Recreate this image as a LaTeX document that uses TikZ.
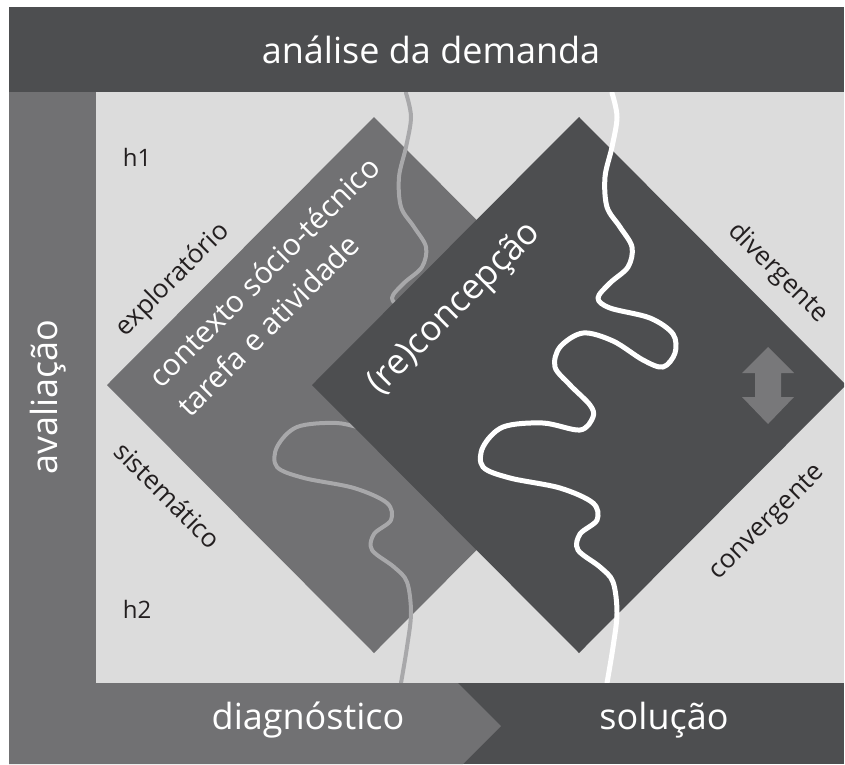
\documentclass[tikz,border=0pt]{standalone}
\usepackage{fontspec}
\setmainfont{Open Sans}
\usepackage{xcolor}
\usepackage{tikz}
\usetikzlibrary{positioning}
\definecolor{DarkGray}{HTML}{4D4E50}
\definecolor{MidGray}{HTML}{717173}
\definecolor{PaleGray}{HTML}{DCDCDC}
\definecolor{RiverGray}{HTML}{A8A8AA}
\definecolor{ArrowGray}{HTML}{78787A}
\definecolor{InkGray}{HTML}{231F20}
\newcommand{\river}{plot[smooth,tension=0.55] coordinates {(612,93) (617,117) (612,147) (605,177) (607,207) (620,227) (632,247) (628,267) (610,283) (598,298) (610,308) (650,318) (673,334) (675,353) (663,367) (643,360) (613,341) (583,333) (560,347) (555,367) (570,385) (590,405) (593,417) (580,430) (543,423) (503,427) (483,447) (483,467) (510,478) (560,488) (593,503) (597,520) (580,534) (578,550) (600,567) (613,582) (617,613) (613,647) (607,683)}}

\begin{document}
\begin{tikzpicture}[
  x=1pt,y=-1pt,
  band/.style={white,inner sep=0pt,font=\fontsize{36}{42}\selectfont},
  side/.style={InkGray,inner sep=0pt,font=\fontsize{26}{30}\selectfont},
  phase/.style={white,inner sep=0pt,align=left,font=\fontsize{30}{41}\selectfont},
  riverline/.style={line width=#1,line cap=round,line join=round}
]
\useasboundingbox (0,0) rectangle (845,764);
\fill[PaleGray] (96,92) rectangle (844,683);
% losangos
\fill[MidGray] (374,117) -- (641,385) -- (374,653) -- (107,385) -- cycle;
\draw[riverline=4pt,RiverGray,xshift=-206pt] \river;
\begin{scope}
\clip (96,92) rectangle (844,683);
\fill[DarkGray] (579,117) -- (846,385) -- (579,653) -- (312,385) -- cycle;
\end{scope}
\draw[riverline=5pt,white] \river;
\fill[ArrowGray] (768,347) -- (794,373) -- (781,373) -- (781,397) -- (794,397) -- (768,424)
  -- (742,397) -- (755,397) -- (755,373) -- (742,373) -- cycle;
% faixas
\fill[DarkGray] (9,7) rectangle (844,92);
\fill[MidGray] (9,92) rectangle (96,683);
\fill[DarkGray] (9,683) rectangle (844,764);
\fill[MidGray] (9,683) -- (458,683) -- (501,726) -- (463,764) -- (9,764) -- cycle;
\node[band] (demanda) at (431,50) {análise da demanda};
\node[band,rotate=90] (avaliacao) at (48,397) {avaliação};
\node[band] (diagnostico) at (308,720) {diagnóstico};
\node[band] (solucao) at (664,720) {solução};
\node[side,font=\fontsize{24}{28}\selectfont] (h1) at (137,157) {h1};
\node[side,font=\fontsize{24}{28}\selectfont] (h2) at (137,609) {h2};
\node[side,rotate=45] (exploratorio) at (173,280) {exploratório};
\node[side,rotate=-45] (sistematico) at (168,495) {sistemático};
\node[side,rotate=-45] (divergente) at (778,273) {divergente};
\node[side,rotate=45] (convergente) at (768,523) {convergente};
\node[phase,rotate=45] (contexto) at (278,286) {contexto sócio-técnico\\tarefa e atividade};
\node[phase,rotate=45,font=\fontsize{35}{41}\selectfont] (concepcao) at (455,309) {(re)concepção};
\end{tikzpicture}
\end{document}
